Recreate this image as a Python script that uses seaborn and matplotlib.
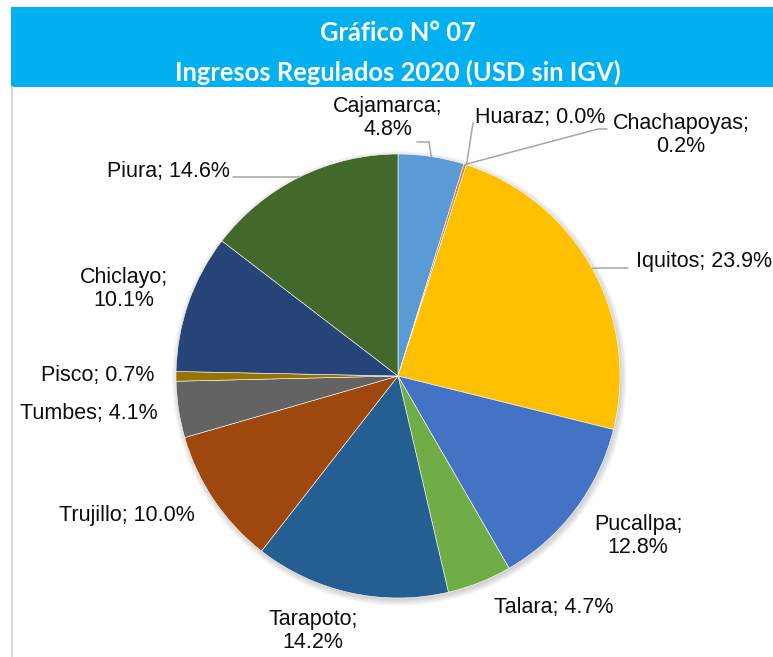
import matplotlib
matplotlib.use('Agg')
import matplotlib.pyplot as plt
import seaborn as sns
import numpy as np
from matplotlib.patches import Rectangle, Circle

# chart texts
title_1 = 'Gráfico N° 07'
title_2 = 'Ingresos Regulados 2020 (USD sin IGV)'

# slices, clockwise from 12 o'clock
cities = ['Cajamarca', 'Chachapoyas', 'Huaraz', 'Iquitos', 'Pucallpa', 'Talara',
          'Tarapoto', 'Trujillo', 'Tumbes', 'Pisco', 'Chiclayo', 'Piura']
shares = [4.8, 0.2, 0.0, 23.9, 12.8, 4.7, 14.2, 10.0, 4.1, 0.7, 10.1, 14.6]
colors = ['#5B9BD5', '#ED7D31', '#A5A5A5', '#FFC000', '#4472C4', '#70AD47',
          '#255E91', '#9E480E', '#636363', '#997300', '#264478', '#43682B']

# labels split over two lines
two_line = {'Cajamarca', 'Chachapoyas', 'Pucallpa', 'Tarapoto', 'Chiclayo'}

# label layout (pixel centres in the figure)
label_pos = {
    'Cajamarca': (388, 118), 'Huaraz': (540, 117), 'Chachapoyas': (681, 135),
    'Iquitos': (636, 261), 'Pucallpa': (638, 536), 'Talara': (554, 607),
    'Tarapoto': (313, 631), 'Trujillo': (127, 516), 'Tumbes': (89, 413),
    'Pisco': (98, 376), 'Chiclayo': (124, 289), 'Piura': (168, 172),
}
# leader line elbows (after the start point on the pie edge)
leaders = {
    'Cajamarca': [(429, 142), (417, 142)],
    'Huaraz': [(473, 123)],
    'Chachapoyas': [(598, 129), (607, 129)],
    'Iquitos': [(604, 268), (628, 268)],
    'Piura': [(293, 177), (233, 177)],
}

sns.set_theme(style='white')
plt.rcParams['font.family'] = ['Liberation Sans', 'DejaVu Sans']

W, H = 773, 657
fig = plt.figure(figsize=(W / 100, H / 100), dpi=100)
fig.patch.set_facecolor('white')

# pie geometry in pixels
cx, cy, r = 398, 376, 222
ax = fig.add_axes([(cx - r) / W, 1 - (cy + r) / H, 2 * r / W, 2 * r / H])

# soft shadow under the pie
for k in range(5):
    ax.add_patch(Circle((0.006, -0.01), 1.0 + 0.006 * k, color='black',
                        alpha=0.035, lw=0, zorder=0, clip_on=False))

wedges, _ = ax.pie(shares, colors=colors, startangle=90, counterclock=False,
                   radius=1, wedgeprops=dict(edgecolor='white', linewidth=0.4))
for w in wedges:
    w.set_zorder(2)
ax.set_xlim(-1, 1)
ax.set_ylim(-1, 1)
ax.set_aspect('equal')
ax.axis('off')

# overlay in pixel coordinates for header, frame, labels
ov = fig.add_axes([0, 0, 1, 1], zorder=5)
ov.set_xlim(0, W)
ov.set_ylim(H, 0)
ov.axis('off')
ov.patch.set_alpha(0)

ov.add_patch(Rectangle((11, 7), W - 11, 80, color='#00B0F0', lw=0))
ov.plot([12, 12], [87, H], color='#D9D9D9', lw=1.5)

ov.text(398, 41, title_1, ha='center', va='baseline', color='white',
        fontsize=18.4, fontweight='bold', family='Lato')
ov.text(398, 81, title_2, ha='center', va='baseline', color='white',
        fontsize=18.4, fontweight='bold', family='Lato')

for city, share, w in zip(cities, shares, wedges):
    sep = '\n' if city in two_line else ' '
    txt = f'{city};{sep}{share:.1f}%'
    x, y = label_pos[city]
    ha = 'left' if city == 'Iquitos' else 'center'
    ov.text(x, y, txt, ha=ha, va='center', multialignment='center',
            fontsize=15.5, color='#0d0d0d', linespacing=1.1)
    if city in leaders:
        mid = np.deg2rad((w.theta1 + w.theta2) / 2)
        pts = [(cx + r * np.cos(mid), cy - r * np.sin(mid))] + leaders[city]
        xs, ys = zip(*pts)
        ov.plot(xs, ys, color='#A6A6A6', lw=1.1)

fig.savefig('out.png', dpi=100)
